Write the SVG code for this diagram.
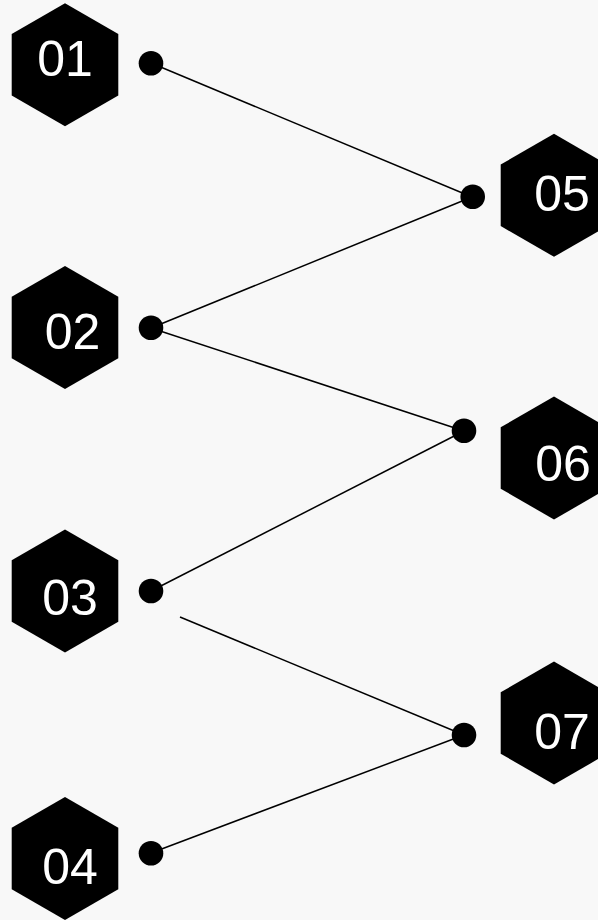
<svg xmlns="http://www.w3.org/2000/svg" width="598" height="920" viewBox="0 0 598 920">
  <defs>
    <style>
      .hex { fill: #000000; }
      .num { fill: #ffffff; font-family: "Liberation Sans", Arial, sans-serif; font-size: 50px; text-anchor: middle; }
      .dot { fill: #000000; }
      .conn line { stroke: #000000; stroke-width: 1.5; fill: none; }
    </style>
    <polygon id="hexshape" points="0,-61.5 53.3,-30.75 53.3,30.75 0,61.5 -53.3,30.75 -53.3,-30.75"/>
  </defs>
  <rect x="0" y="0" width="598" height="920" fill="#f8f8f8"/>

  <g id="connectors" class="conn">
    <line x1="151" y1="63" x2="472" y2="197"/>
    <line x1="151" y1="328" x2="472" y2="197"/>
    <line x1="151" y1="328" x2="464" y2="431"/>
    <line x1="151" y1="591" x2="464" y2="431"/>
    <line x1="180" y1="617" x2="464" y2="735"/>
    <line x1="151" y1="853" x2="464" y2="735"/>
  </g>

  <g id="node-01">
    <use href="#hexshape" class="hex" transform="translate(65,64.8)"/>
    <text class="num" x="65" y="76">01</text>
    <circle class="dot" cx="151" cy="63.3" r="12.3"/>
  </g>
  <g id="node-02">
    <use href="#hexshape" class="hex" transform="translate(65,327.5)"/>
    <text class="num" x="72.5" y="349">02</text>
    <circle class="dot" cx="151" cy="327.7" r="12.3"/>
  </g>
  <g id="node-03">
    <use href="#hexshape" class="hex" transform="translate(65,591)"/>
    <text class="num" x="70" y="615">03</text>
    <circle class="dot" cx="151" cy="591" r="12.3"/>
  </g>
  <g id="node-04">
    <use href="#hexshape" class="hex" transform="translate(65,858.5)"/>
    <text class="num" x="70" y="884.3">04</text>
    <circle class="dot" cx="151" cy="853.3" r="12.3"/>
  </g>
  <g id="node-05">
    <use href="#hexshape" class="hex" transform="translate(554,195.3)"/>
    <text class="num" x="562" y="210.7">05</text>
    <circle class="dot" cx="472.7" cy="196.7" r="12.3"/>
  </g>
  <g id="node-06">
    <use href="#hexshape" class="hex" transform="translate(554,458)"/>
    <text class="num" x="563" y="480.7">06</text>
    <circle class="dot" cx="464" cy="430.7" r="12.3"/>
  </g>
  <g id="node-07">
    <use href="#hexshape" class="hex" transform="translate(554,723)"/>
    <text class="num" x="562" y="749">07</text>
    <circle class="dot" cx="464" cy="735" r="12.3"/>
  </g>
</svg>
